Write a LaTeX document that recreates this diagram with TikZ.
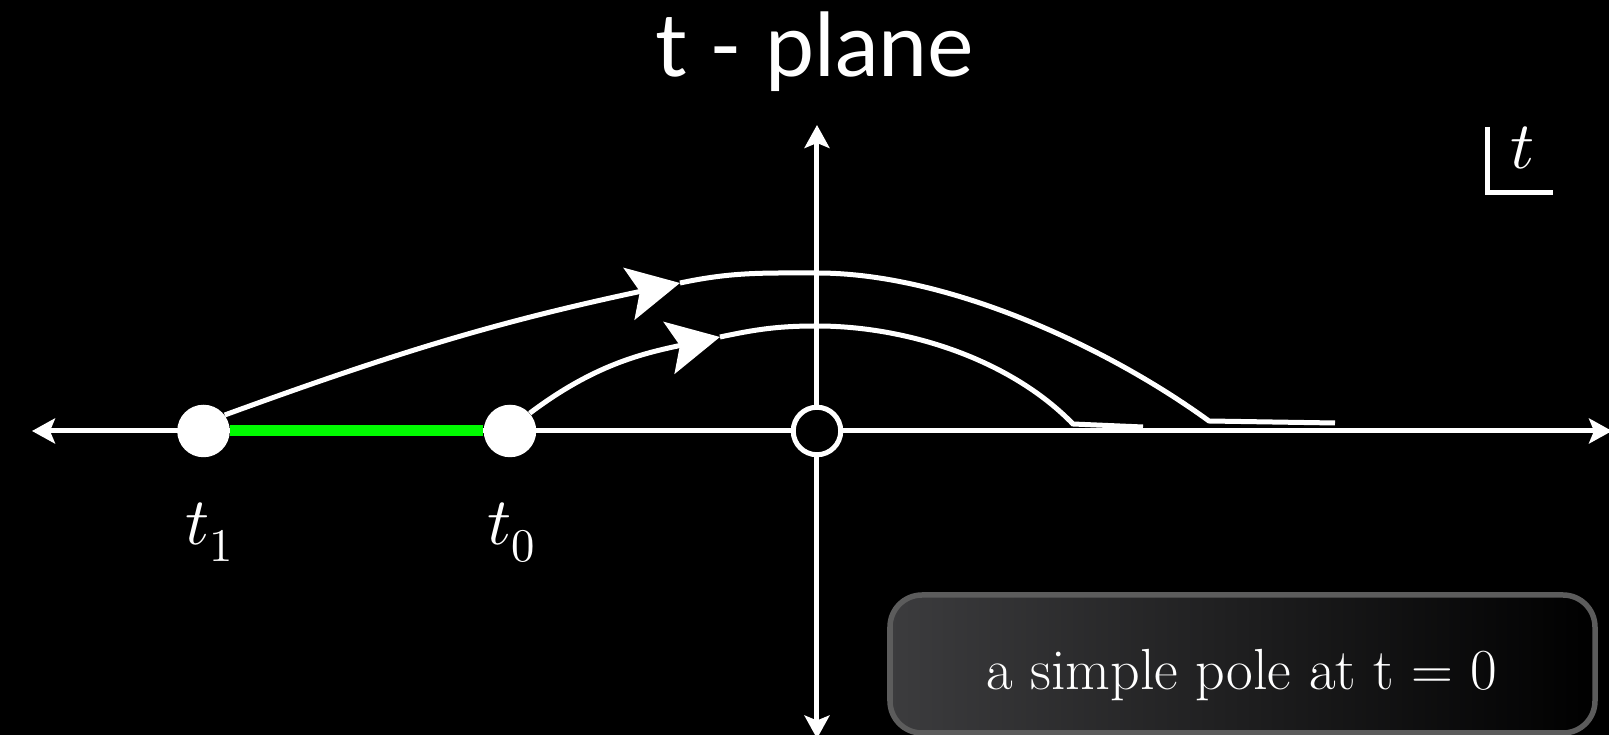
\documentclass[tikz,border=0pt]{standalone}
\usepackage{fontspec}
\usepackage{unicode-math}
\newfontfamily\titlefont{Lato}
\usetikzlibrary{arrows.meta,positioning}
\definecolor{cutgreen}{RGB}{0,250,0}
\definecolor{boxgray}{RGB}{60,60,62}
\definecolor{boxedge}{RGB}{92,92,92}

\begin{document}
\begin{tikzpicture}[
    axis/.style={white,line width=0.1cm,{Stealth[length=0.46cm,width=0.5cm,inset=0.1cm]}-{Stealth[length=0.46cm,width=0.5cm,inset=0.1cm]}},
    contour/.style={white,line width=0.1cm},
    flow/.style={contour,-{Stealth[length=1.04cm,width=1.06cm,inset=0.22cm]}},
    dot/.style={circle,fill=white,inner sep=0pt,minimum size=1.05cm},
    lbl/.style={text=white,font=\fontsize{38}{40}\selectfont,anchor=base}
  ]
  \fill[black] (-16.34,-6.08) rectangle (15.84,8.62);
  \useasboundingbox (-16.34,-6.08) rectangle (15.84,8.62);

  \node[text=white,font=\titlefont\fontsize{50}{54}\selectfont,anchor=base] (title) at (-0.04,7.08) {t - plane};

  \coordinate (xl) at (-15.7,0);
  \coordinate (xr) at (15.9,0);
  \coordinate (yb) at (0,-6.15);
  \coordinate (yt) at (0,6.12);
  \draw[axis] (xl) -- (xr);
  \draw[axis] (yb) -- (yt);

  \node[dot] (t1) at (-12.27,0) {};
  \node[dot] (t0) at (-6.14,0) {};
  \node[circle,draw=white,fill=black,line width=0.1cm,inner sep=0pt,minimum size=0.95cm] (pole) at (0,0) {};
  \draw[cutgreen,line width=0.22cm] (t1) -- (t0);

  \node[lbl] (l1) at (-12.15,-2.28) {$t_1$};
  \node[lbl] (l0) at (-6.11,-2.28) {$t_0$};

  \coordinate (a1) at (-2.74,2.96);
  \coordinate (p1) at (0,3.16);
  \coordinate (k1) at (7.84,0.2);
  \coordinate (e1) at (10.36,0.16);
  \coordinate (a2) at (-1.94,1.88);
  \coordinate (p2) at (0,2.1);
  \coordinate (k2) at (5.12,0.14);
  \coordinate (e2) at (6.52,0.08);

  \draw[flow] (t1.37) to[out=20,in=192] (a1);
  \draw[contour] (a1) to[out=12,in=180] (p1) .. controls +(2.63,0) and +(-2.02,1.47) .. (k1) -- (e1);
  \draw[flow] (t0.42) to[out=37,in=192] (a2);
  \draw[contour] (a2) to[out=12,in=180] (p2) .. controls +(1.8,0) and +(-1.25,1.29) .. (k2) -- (e2);

  \coordinate (ct) at (13.4,6.08);
  \coordinate (cr) at (14.72,4.76);
  \draw[contour] (ct) |- (cr);
  \node[lbl] (tvar) at (14.11,5.24) {$t$};

  \draw[boxedge,line width=0.11cm,rounded corners=0.64cm,left color=boxgray,right color=black] (1.46,-6.04) rectangle (15.56,-3.28);
  \node[text=white,font=\fontsize{33}{36}\selectfont,anchor=base] (note) at (8.5,-5.18) {a simple pole at t = 0};
\end{tikzpicture}
\end{document}
